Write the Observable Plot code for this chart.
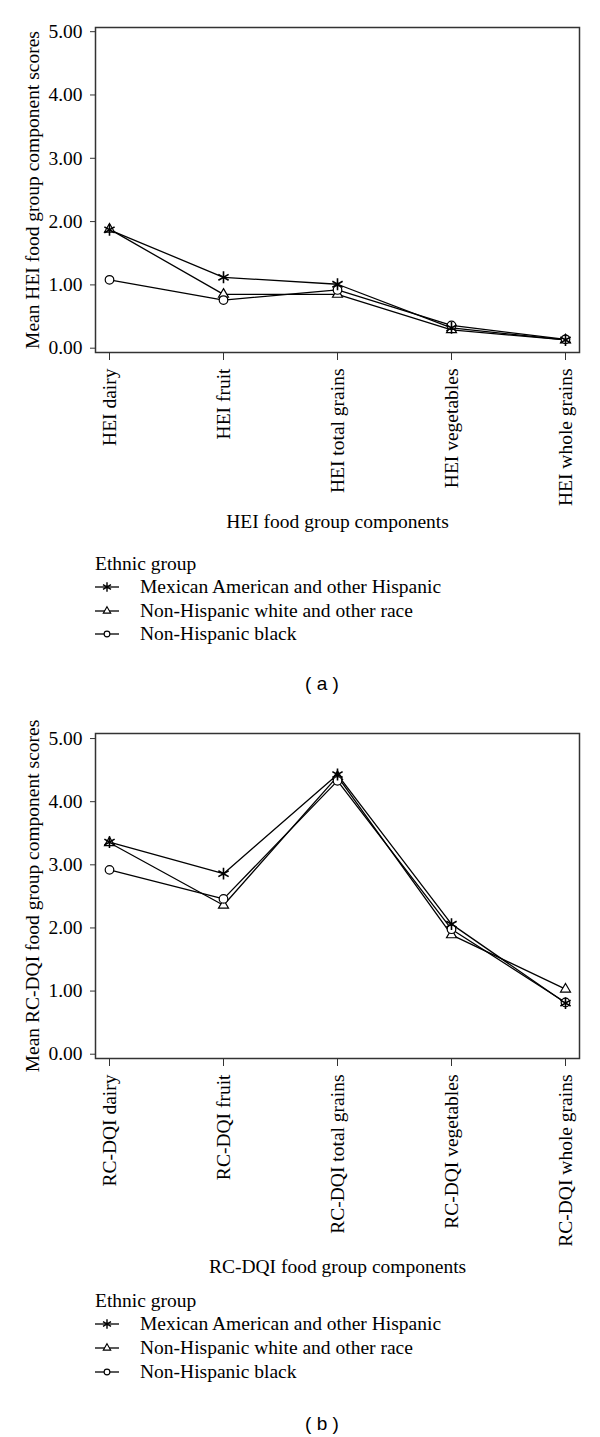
<!DOCTYPE html>
<html>
<head>
<meta charset="utf-8">
<script src="https://cdn.jsdelivr.net/npm/d3@7"></script>
<script src="https://cdn.jsdelivr.net/npm/@observablehq/plot@0.6"></script>
<style>
  html, body { margin: 0; padding: 0; background: white; }
  #page { position: relative; width: 600px; height: 1437px; background: white; overflow: hidden; }
  .panel { position: absolute; left: 0; }
  #overlay { position: absolute; left: 0; top: 0; }
</style>
</head>
<body>
<div id="page">
  <div id="panelA" class="panel" style="top:0px"></div>
  <div id="panelB" class="panel" style="top:700px"></div>
  <svg id="overlay" width="600" height="1437"></svg>
</div>
<script>
// ---- Data ----
const groups = ["Mexican American and other Hispanic", "Non-Hispanic white and other race", "Non-Hispanic black"];
const groupSymbols = ["asterisk", "triangle", "circle"];

const categoriesA = ["HEI dairy", "HEI fruit", "HEI total grains", "HEI vegetables", "HEI whole grains"];
const mexicanA = [1.87, 1.12, 1.01, 0.32, 0.13];
const whiteA   = [1.88, 0.85, 0.85, 0.29, 0.13];
const blackA   = [1.08, 0.76, 0.92, 0.36, 0.14];

const categoriesB = ["RC-DQI dairy", "RC-DQI fruit", "RC-DQI total grains", "RC-DQI vegetables", "RC-DQI whole grains"];
const mexicanB = [3.36, 2.86, 4.43, 2.06, 0.81];
const whiteB   = [3.35, 2.36, 4.40, 1.89, 1.03];
const blackB   = [2.92, 2.46, 4.33, 1.98, 0.82];

const yTicks = [0, 1, 2, 3, 4, 5];

const titlesA = { x: "HEI food group components", y: "Mean HEI food group component scores" };
const titlesB = { x: "RC-DQI food group components", y: "Mean RC-DQI food group component scores" };

function toRows(categories, seriesList) {
  const rows = [];
  seriesList.forEach((vals, gi) => {
    vals.forEach((v, i) => rows.push({ category: categories[i], group: groups[gi], value: v }));
  });
  return rows;
}

const serif = "'Liberation Serif', 'DejaVu Serif', serif";
const FS = 19.5;
// marker sizes per symbol (draw order: triangle, circle, asterisk on top)
const markerStyle = {
  triangle: { r: 3.7, strokeWidth: 1.2, fill: "white" },
  circle:   { r: 4.3, strokeWidth: 1.2, fill: "white" },
  asterisk: { r: 5.6, strokeWidth: 1.6, fill: "none" }
};
const drawOrder = [1, 2, 0];

function makePanel({ categories, rows, titles, height, marginTop, marginBottom, yDomain, xTitleDy, yTitleDx }) {
  const dots = drawOrder.map(gi => {
    const sym = groupSymbols[gi];
    const st = markerStyle[sym];
    return Plot.dot(rows, {
      filter: d => d.group === groups[gi],
      x: "category", y: "value", symbol: sym, r: st.r,
      stroke: "black", strokeWidth: st.strokeWidth, fill: st.fill
    });
  });
  return Plot.plot({
    width: 600,
    height,
    marginLeft: 95,
    marginRight: 21,
    marginTop,
    marginBottom,
    style: { fontFamily: serif, fontSize: FS + "px", color: "black", background: "white", overflow: "visible" },
    x: { type: "point", domain: categories, padding: 0.105 },
    y: { domain: yDomain },
    marks: [
      Plot.frame({ stroke: "#333", strokeWidth: 1.5 }),
      Plot.axisY({ ticks: yTicks, tickFormat: d => d.toFixed(2), tickSize: 5, tickPadding: 8, label: null, stroke: "#333", fontSize: FS }),
      Plot.axisX({ tickSize: 8, tickPadding: 8, tickRotate: -90, label: null, stroke: "#333", fontSize: FS }),
      Plot.line(rows, { x: "category", y: "value", z: "group", stroke: "black", strokeWidth: 1.3 }),
      ...dots,
      Plot.text([titles.x], { text: d => d, frameAnchor: "bottom", textAnchor: "middle", dy: xTitleDy, fontSize: FS }),
      Plot.text([titles.y], { text: d => d, frameAnchor: "left", textAnchor: "middle", rotate: -90, dx: yTitleDx, fontSize: FS })
    ]
  });
}

document.getElementById("panelA").append(makePanel({
  categories: categoriesA,
  rows: toRows(categoriesA, [mexicanA, whiteA, blackA]),
  titles: titlesA,
  height: 545, marginTop: 27, marginBottom: 193,
  yDomain: [-0.068, 5.066],
  xTitleDy: 175, yTitleDx: -63
}));

document.getElementById("panelB").append(makePanel({
  categories: categoriesB,
  rows: toRows(categoriesB, [mexicanB, whiteB, blackB]),
  titles: titlesB,
  height: 590, marginTop: 33, marginBottom: 232,
  yDomain: [-0.068, 5.08],
  xTitleDy: 214, yTitleDx: -63
}));

// ---- Legends and captions (overlay) ----
const overlay = d3.select("#overlay").style("font-family", serif);
const symbolTypes = { asterisk: d3.symbolAsterisk, triangle: d3.symbolTriangle, circle: d3.symbolCircle };
const legendSymbolSize = { asterisk: 60, triangle: 24, circle: 26 };

function legend(titleBaseline, itemBaselines, caption, captionY) {
  overlay.append("text").attr("x", 95).attr("y", titleBaseline).attr("font-size", FS).text("Ethnic group");
  groups.forEach((g, i) => {
    const cy = itemBaselines[i] - 6;
    const sym = groupSymbols[i];
    overlay.append("line").attr("x1", 95).attr("x2", 119).attr("y1", cy).attr("y2", cy)
      .attr("stroke", "black").attr("stroke-width", 1.3);
    overlay.append("path").attr("transform", `translate(107,${cy})`)
      .attr("d", d3.symbol(symbolTypes[sym], legendSymbolSize[sym])())
      .attr("fill", sym === "asterisk" ? "none" : "white").attr("stroke", "black")
      .attr("stroke-width", sym === "asterisk" ? 1.4 : 1.1);
    overlay.append("text").attr("x", 140).attr("y", itemBaselines[i]).attr("font-size", FS).text(g);
  });
  overlay.append("text").attr("x", 322).attr("y", captionY).attr("text-anchor", "middle")
    .attr("dominant-baseline", "central")
    .attr("font-family", "'Liberation Sans', Arial, sans-serif").attr("font-size", 19)
    .attr("xml:space", "preserve").text(caption);
}

legend(570, [593, 617, 640], "( a )", 683);
legend(1307, [1330, 1354, 1378], "( b )", 1423);
</script>
</body>
</html>
